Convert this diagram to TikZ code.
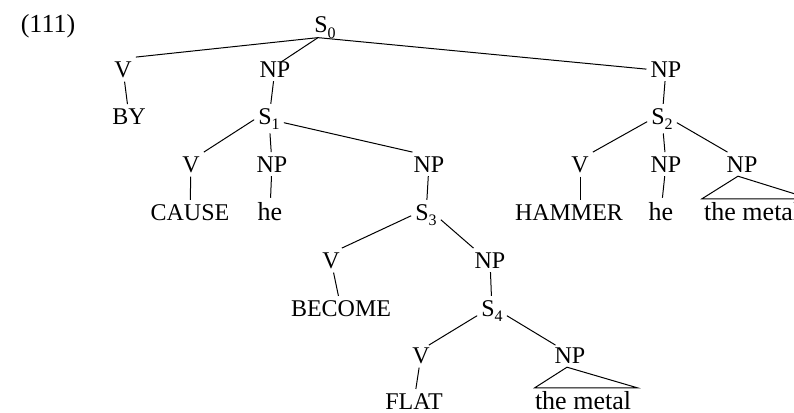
\documentclass[tikz,border=0pt]{standalone}
\usepackage{fontspec}
\setmainfont{Liberation Serif}
\newcommand{\Sn}[1]{S\raisebox{-0.22em}{\fontsize{16}{16}\selectfont #1}}
\begin{document}
\begin{tikzpicture}[x=1pt,y=-1pt,
  lab/.style={font=\fontsize{24}{24}\selectfont, inner sep=4pt, anchor=base},
  word/.style={lab, font=\fontsize{26}{26}\selectfont},
  br/.style={line width=1pt},
  tri/.style={line width=1pt, line join=miter}]
\useasboundingbox (0,0) rectangle (794,412);
\clip (0,0) rectangle (794,412);
\fill[white] (0,0) rectangle (794,412);

% example number
\node[word] (ex) at (48,33) {(111)};

% level 0
\node[lab] (s0) at (325,33) {\Sn{0}};
% level 1
\node[lab] (v0) at (123,77) {V};
\node[lab] (np0) at (275,77) {NP};
\node[lab] (np1) at (666,77) {NP};
% level 2
\node[lab] (by) at (129,124) {BY};
\node[lab] (s1) at (269,124) {\Sn{1}};
\node[lab] (s2) at (662,124) {\Sn{2}};
% level 3
\node[lab] (v1) at (191,172) {V};
\node[lab] (np2) at (272,172) {NP};
\node[lab] (np3) at (429,172) {NP};
\node[lab] (v2) at (580,172) {V};
\node[lab] (np4) at (666,172) {NP};
\node[lab] (np5) at (742,172) {NP};
% level 4
\node[lab] (cause) at (190,220) {CAUSE};
\node[word] (he1) at (270,220) {he};
\node[lab] (s3) at (426,220) {\Sn{3}};
\node[lab] (hammer) at (569,220) {HAMMER};
\node[word] (he2) at (661,220) {he};
\node[word, anchor=base west] (metal1) at (700,220) {the metal};
% level 5
\node[lab] (v3) at (331,268) {V};
\node[lab] (np6) at (490,268) {NP};
% level 6
\node[lab] (become) at (341,316) {BECOME};
\node[lab] (s4) at (492,316) {\Sn{4}};
% level 7
\node[lab] (v4) at (421,363) {V};
\node[lab] (np7) at (570,363) {NP};
% level 8
\node[lab] (flat) at (414,409) {FLAT};
\node[word] (metal2) at (583,409) {the metal};

% branches
\coordinate (top) at ([xshift=-7pt,yshift=5pt]s0.south);
\draw[br] (top) -- (v0.north east);
\draw[br] (top) -- ([xshift=6pt,yshift=-5pt]np0.north);
\draw[br] (top) -- (np1.west);
\draw[br] (v0) -- (by);
\draw[br] (np0) -- (s1);
\draw[br] (np1) -- (s2);
\draw[br] ([yshift=-1pt]s1.west) -- (v1.north east);
\draw[br] (s1) -- (np2);
\draw[br] ([yshift=-4pt]s1.east) -- ([xshift=3pt]np3.north west);
\draw[br] (v1) -- (cause);
\draw[br] (np2) -- (he1);
\draw[br] (np3) -- (s3);
\draw[br] ([yshift=-3pt]s2.west) -- (v2.north east);
\draw[br] (s2) -- (np4);
\draw[br] ([yshift=-4pt]s2.east) -- ([xshift=5pt]np5.north west);
\draw[br] (v2.south) -- (v2.south |- hammer.north);
\draw[br] (np4) -- (he2);
\draw[br] ([yshift=-1pt]s3.west) -- ([xshift=-2pt]v3.north east);
\draw[br] ([yshift=-5pt]s3.east) -- ([xshift=3pt]np6.north west);
\draw[br] (v3) -- (become);
\draw[br] (np6) -- (s4);
\draw[br] ([yshift=-5pt]s4.west) -- ([xshift=-5pt,yshift=-2pt]v4.north east);
\draw[br] ([yshift=-5pt]s4.east) -- ([xshift=5pt,yshift=-2pt]np7.north west);
\draw[br] (v4) -- (flat);

% triangles over unanalysed phrases
\draw[tri] ([xshift=-4pt]np5.south) -- ([xshift=2pt,yshift=-1pt]metal1.north west)
  -- ([xshift=6pt,yshift=-1pt]metal1.north east) -- cycle;
\draw[tri] ([xshift=-3pt]np7.south) -- ([xshift=4pt,yshift=-1pt]metal2.north west)
  -- ([xshift=2pt,yshift=-1pt]metal2.north east) -- cycle;
\end{tikzpicture}
\end{document}
